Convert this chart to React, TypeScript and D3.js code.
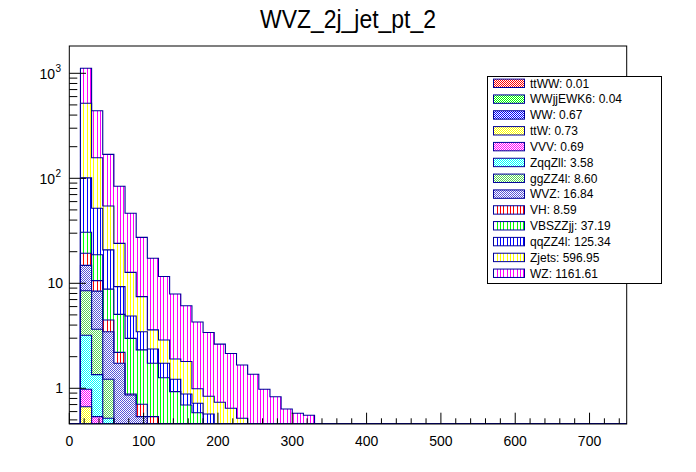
import React, { useMemo } from 'react';
import * as d3 from 'd3';

const TITLE = 'WVZ_2j_jet_pt_2';
const BIN_WIDTH = 15;
const X_MIN = 0;
const X_MAX = 750;
const Y_MIN = 0.457;
const Y_MAX = 1820;

const xTickValues = [0, 100, 200, 300, 400, 500, 600, 700];
const xTickLabels = ['0', '100', '200', '300', '400', '500', '600', '700'];
const yTickValues = [1, 10, 100, 1000];
const yTickBase = ['1', '10', '10', '10'];
const yTickExp = ['', '', '2', '3'];

const seriesNames = ['ttWW', 'WWjjEWK6', 'WW', 'ttW', 'VVV', 'ZqqZll', 'ggZZ4l', 'WVZ', 'VH', 'VBSZZjj', 'qqZZ4l', 'Zjets', 'WZ'];
const legendTotals = ['0.01', '0.04', '0.67', '0.73', '0.69', '3.58', '8.60', '16.84', '8.59', '37.19', '125.34', '596.95', '1161.61'];
const seriesColors = ['#ff0000', '#00ff00', '#0000ff', '#ffff00', '#ff00ff', '#00ffff', '#59d454', '#5954d9', '#ff0000', '#00ff00', '#0000ff', '#ffff00', '#ff00ff'];
const seriesPatterns = ['dots', 'dots', 'dots', 'dots', 'dots', 'dots', 'dots', 'dots', 'vlines', 'vlines', 'vlines', 'vlines', 'vlines'];

// per-bin contents, bin 0 = [0,15), bin 1 = [15,30), ...
const ttWW = [0, 0.005, 0.003, 0.002];
const WWjjEWK6 = [0, 0.015, 0.01, 0.008, 0.004, 0.003];
const WW = [0, 0.2, 0.15, 0.1, 0.07, 0.05, 0.04, 0.03, 0.02, 0.01];
const ttW = [0, 0.448, 0.1, 0.06, 0.05, 0.03, 0.02, 0.01, 0.01];
const VVV = [0, 0.31, 0.274, 0.05, 0.03, 0.015, 0.01];
const ZqqZll = [0, 2.222, 0.813, 0.298, 0.12, 0.06, 0.04, 0.02];
const ggZZ4l = [0, 5.3, 2.3, 0.702, 0.15, 0.08, 0.04, 0.02];
const WVZ = [0, 6.3, 4.78, 2.24, 1.306, 0.625, 0.387, 0.3, 0.25, 0.15, 0.12, 0.08, 0.06, 0.04, 0.03, 0.02];
const VH = [0, 4.5, 2.17, 1.01, 0.47, 0.02, 0.167, 0.157, 0.05, 0.03];
const VBSZZjj = [0, 11.3, 8.1, 4.33, 2.86, 2.107, 1.616, 1.193, 0.93, 0.74, 0.574, 0.505, 0.36, 0.25, 0.2, 0.15, 0.1, 0.08, 0.05, 0.03];
const qqZZ4l = [0, 70.4, 33.1, 12.0, 4.24, 1.89, 1.14, 0.64, 0.47, 0.29, 0.188, 0.135, 0.15, 0.17, 0.1, 0.05, 0.03, 0.02];
const Zjets = [0, 417, 105.2, 33.7, 14.7, 7.82, 4.0, 1.23, 1.15, 0.68, 0.92, 0.27, 0.27, 0.276, 0.315, 0.298, 0.15, 0.08, 0.05, 0.03];
const WZ = [0, 598, 283, 114.5, 60, 33.7, 19.94, 13.7, 8.72, 6.0, 4.3, 3.29, 2.56, 1.9, 1.5, 1.15, 1.08, 0.8, 0.73, 0.575, 0.578, 0.553];

const seriesValues = [ttWW, WWjjEWK6, WW, ttW, VVV, ZqqZll, ggZZ4l, WVZ, VH, VBSZZjj, qqZZ4l, Zjets, WZ];

const LINE_COLOR = '#000099';
const FONT = '"Liberation Sans", Arial, Helvetica, sans-serif';

function makeTile(kind: string, color: string): string {
  const w = kind === 'dots' ? 2 : 10;
  const h = 2;
  const cv = document.createElement('canvas');
  cv.width = w;
  cv.height = h;
  const ctx = cv.getContext('2d');
  if (!ctx) return '';
  ctx.fillStyle = '#ffffff';
  ctx.fillRect(0, 0, w, h);
  ctx.fillStyle = color;
  if (kind === 'dots') {
    ctx.fillRect(0, 0, 1, 1);
    ctx.fillRect(1, 1, 1, 1);
  } else {
    [0, 3, 7].forEach((px) => ctx.fillRect(px, 0, 1, h));
  }
  return cv.toDataURL('image/png');
}

export default function App() {
  const W = 696;
  const H = 472;
  const frame = { left: 69.3, right: 626.7, top: 46, bottom: 424 };
  const x = d3.scaleLinear().domain([X_MIN, X_MAX]).range([frame.left, frame.right]);
  const y = d3.scaleLog().domain([Y_MIN, Y_MAX]).range([frame.bottom, frame.top]).clamp(true);
  const yv = (v: number) => y(Math.max(v, 1e-6));

  const tiles = useMemo(() => seriesColors.map((c, k) => makeTile(seriesPatterns[k], c)), []);

  const nBins = Math.round((X_MAX - X_MIN) / BIN_WIDTH);
  const padded = seriesValues.map((a) => d3.range(nBins).map((i) => (a[i] ?? 0)));
  const rows = d3.range(nBins).map((i) => {
    const r: any = { bin: i };
    seriesNames.forEach((n, k) => (r[n] = padded[k][i]));
    return r;
  });
  const stacked = d3.stack<any>().keys(seriesNames)(rows);
  const edge = (i: number) => X_MIN + i * BIN_WIDTH;

  const stepLine = d3
    .line<[number, number]>()
    .x((d) => x(d[0]))
    .y((d) => yv(d[1]))
    .curve(d3.curveStepAfter);

  const patId = (k: number) => `pat${k}`;

  const minorY: number[] = [];
  [0.1, 1, 10, 100, 1000].forEach((dec) => {
    for (let m = 2; m <= 9; m++) {
      const v = m * dec;
      if (v >= Y_MIN && v <= Y_MAX) minorY.push(v);
    }
  });
  const minorX = d3.range(X_MIN, X_MAX + 0.001, 20).filter((v) => v % 100 !== 0);

  const legend = { x: 487.5, y: 76.5, w: 174, h: 207, row0: 83.3, dy: 15.83 };

  return (
    <svg width={W} height={H} style={{ position: 'absolute', left: 0, top: 0, background: '#fff', imageRendering: 'pixelated' as any }} fontFamily={FONT}>
      <defs>
        {seriesColors.map((c, k) => {
          const w = seriesPatterns[k] === 'dots' ? 2 : 10;
          return (
            <pattern key={k} id={patId(k)} x={0} y={0} width={w} height={2} patternUnits="userSpaceOnUse">
              <image href={tiles[k]} x={0} y={0} width={w} height={2} preserveAspectRatio="none" style={{ imageRendering: 'pixelated' as any }} />
            </pattern>
          );
        })}
        <clipPath id="frameClip">
          <rect x={frame.left} y={frame.top} width={frame.right - frame.left} height={frame.bottom - frame.top} />
        </clipPath>
      </defs>
      <rect x={0} y={0} width={W} height={H} fill="#ffffff" />

      <text x={348} y={28} textAnchor="middle" fontSize={25} textLength={176} lengthAdjust="spacingAndGlyphs" fill="#000">
        {TITLE}
      </text>

      <g clipPath="url(#frameClip)">
        {stacked.map((s, k) =>
          s.map((d, i) => {
            if (d[1] <= Y_MIN) return null;
            const top = yv(d[1]);
            const bot = yv(d[0]);
            if (bot - top <= 0) return null;
            return (
              <rect
                key={`${k}-${i}`}
                x={x(edge(i))}
                y={top}
                width={x(edge(i + 1)) - x(edge(i))}
                height={bot - top}
                fill={`url(#${patId(k)})`}
                shapeRendering="crispEdges"
              />
            );
          })
        )}
        {stacked.map((s, k) => {
          const pts: [number, number][] = s.map((d, i) => [edge(i), d[1]] as [number, number]);
          pts.push([edge(nBins), s[nBins - 1][1]]);
          return <path key={`l${k}`} d={stepLine(pts) || ''} fill="none" stroke={LINE_COLOR} strokeWidth={1.1} />;
        })}
      </g>

      <rect x={frame.left} y={frame.top} width={frame.right - frame.left} height={frame.bottom - frame.top} fill="none" stroke="#000" strokeWidth={1} />

      {yTickValues.map((v) => (
        <line key={`ym${v}`} x1={frame.left} x2={frame.left + 16.7} y1={y(v)} y2={y(v)} stroke="#000" strokeWidth={1} />
      ))}
      {minorY.map((v) => (
        <line key={`yn${v}`} x1={frame.left} x2={frame.left + 8} y1={y(v)} y2={y(v)} stroke="#000" strokeWidth={1} />
      ))}
      {yTickValues.map((v, i) =>
        yTickExp[i] === '' ? (
          <text key={`yl${v}`} x={63} y={y(v) + 5} textAnchor="end" fontSize={14}>
            {yTickBase[i]}
          </text>
        ) : (
          <g key={`yl${v}`}>
            <text x={55} y={y(v) + 6} textAnchor="end" fontSize={14}>
              {yTickBase[i]}
            </text>
            <text x={55.5} y={y(v) - 1} textAnchor="start" fontSize={10}>
              {yTickExp[i]}
            </text>
          </g>
        )
      )}

      {xTickValues.map((v) => (
        <line key={`xm${v}`} x1={x(v)} x2={x(v)} y1={frame.bottom} y2={frame.bottom - 11.3} stroke="#000" strokeWidth={1} />
      ))}
      {minorX.map((v) => (
        <line key={`xn${v}`} x1={x(v)} x2={x(v)} y1={frame.bottom} y2={frame.bottom - 5.7} stroke="#000" strokeWidth={1} />
      ))}
      {xTickValues.map((v, i) => (
        <text key={`xl${v}`} x={x(v)} y={446} textAnchor="middle" fontSize={14}>
          {xTickLabels[i]}
        </text>
      ))}

      <rect x={legend.x} y={legend.y} width={legend.w} height={legend.h} fill="#ffffff" stroke="#000" strokeWidth={1} />
      {seriesNames.map((n, k) => {
        const cy = legend.row0 + legend.dy * k;
        return (
          <g key={`lg${k}`}>
            <rect x={493.5} y={cy - 4.2} width={31} height={8.4} fill={`url(#${patId(k)})`} stroke={LINE_COLOR} strokeWidth={1} />
            <text x={530} y={cy + 4.3} fontSize={12}>
              {`${n}: ${legendTotals[k]}`}
            </text>
          </g>
        );
      })}
    </svg>
  );
}
